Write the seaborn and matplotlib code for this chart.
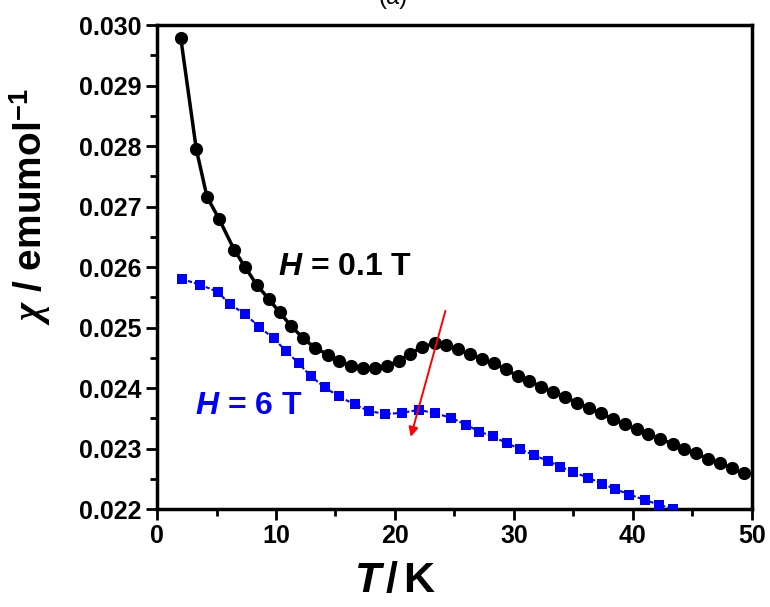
import matplotlib
matplotlib.use("Agg")
import matplotlib.pyplot as plt
import seaborn as sns

# chi(T) curves
t_low_field = [2.0, 3.3, 4.2, 5.2, 6.5, 7.4, 8.4, 9.4, 10.3, 11.3, 12.3, 13.3, 14.4, 15.3,
               16.3, 17.3, 18.3, 19.3, 20.3, 21.3, 22.3, 23.4, 24.3, 25.3, 26.3, 27.3, 28.3,
               29.3, 30.3, 31.3, 32.3, 33.3, 34.3, 35.3, 36.3, 37.3, 38.3, 39.3, 40.3, 41.3,
               42.3, 43.4, 44.3, 45.3, 46.3, 47.3, 48.3, 49.3]
chi_low_field = [0.02978, 0.02795, 0.02716, 0.02680, 0.02628, 0.02600, 0.02570, 0.02547,
                 0.02525, 0.02502, 0.02482, 0.02466, 0.02455, 0.02445, 0.02437, 0.02433,
                 0.02433, 0.02436, 0.02445, 0.02457, 0.02468, 0.02474, 0.02471, 0.02464,
                 0.02456, 0.02448, 0.02441, 0.02431, 0.02420, 0.02412, 0.02402, 0.02394,
                 0.02385, 0.02376, 0.02367, 0.02358, 0.02349, 0.02340, 0.02332, 0.02324,
                 0.02316, 0.02307, 0.02299, 0.02292, 0.02283, 0.02276, 0.02267, 0.02259]

t_high_field = [2.1, 3.6, 5.1, 6.1, 7.4, 8.6, 9.8, 10.8, 11.9, 12.9, 14.1, 15.3, 16.6, 17.8,
                19.2, 20.6, 22.0, 23.4, 24.7, 26.0, 27.1, 28.2, 29.4, 30.5, 31.7, 32.9, 33.9,
                35.0, 36.2, 37.4, 38.5, 39.7, 41.0, 42.2, 43.4]
chi_high_field = [0.02580, 0.02571, 0.02559, 0.02539, 0.02522, 0.02501, 0.02482, 0.02462,
                  0.02441, 0.02420, 0.02401, 0.02386, 0.02373, 0.02362, 0.02357, 0.02359,
                  0.02364, 0.02358, 0.02351, 0.02339, 0.02328, 0.02320, 0.02309, 0.02299,
                  0.02289, 0.02279, 0.02270, 0.02261, 0.02252, 0.02242, 0.02233, 0.02224,
                  0.02215, 0.02207, 0.02200]

x_ticks = [0, 10, 20, 30, 40, 50]
y_ticks = [0.022, 0.023, 0.024, 0.025, 0.026, 0.027, 0.028, 0.029, 0.030]

sns.set_theme(style="ticks")
plt.rcParams['font.family'] = ['Liberation Sans', 'DejaVu Sans']
plt.rcParams['font.weight'] = 'bold'
plt.rcParams['text.color'] = 'black'
plt.rcParams['axes.labelcolor'] = 'black'
plt.rcParams['xtick.color'] = 'black'
plt.rcParams['ytick.color'] = 'black'
plt.rcParams['mathtext.fontset'] = 'custom'
plt.rcParams['mathtext.it'] = 'Liberation Serif:italic:bold'
plt.rcParams['mathtext.sf'] = 'Liberation Sans:italic:bold'
plt.rcParams['mathtext.rm'] = 'Liberation Sans:bold'
plt.rcParams['mathtext.bf'] = 'Liberation Sans:bold'

fig = plt.figure(figsize=(7.7, 6.07), dpi=100)
ax = fig.add_axes([0.2039, 0.1614, 0.7727, 0.7974])

sns.lineplot(x=t_low_field, y=chi_low_field, ax=ax, color='black', lw=2.5, sort=False,
             marker='o', markersize=9.5, markeredgewidth=0, zorder=3)
sns.lineplot(x=t_high_field, y=chi_high_field, ax=ax, color='#0000ff', lw=1.5, sort=False,
             linestyle=(0, (2, 1)), marker='s', markersize=7.5, markeredgewidth=0, zorder=3)

ax.annotate('', xy=(21.26, 0.02315), xytext=(24.3, 0.02532),
            arrowprops=dict(arrowstyle='-|>', color='red', lw=1.4, mutation_scale=14))

ax.text(10.2, 0.0260, r'$\mathsf{H}$ = 0.1 T', fontsize=23, fontweight='bold',
        color='black', va='center')
ax.text(3.2, 0.0237, r'$\mathsf{H}$ = 6 T', fontsize=23, fontweight='bold',
        color='#0000ff', va='center')

ax.set_xlim(0, 50)
ax.set_ylim(0.022, 0.030)
ax.set_xticks(x_ticks)
ax.set_yticks(y_ticks)
ax.set_xticks(range(5, 50, 10), minor=True)
ax.set_yticks([0.0225, 0.0235, 0.0245, 0.0255, 0.0265, 0.0275, 0.0285, 0.0295], minor=True)
ax.set_yticklabels([f'{v:.3f}' for v in y_ticks])
ax.tick_params(which='major', direction='out', length=8, width=2, labelsize=18, pad=3)
ax.tick_params(which='minor', direction='out', length=5, width=2)
for lab in ax.get_xticklabels() + ax.get_yticklabels():
    lab.set_fontweight('bold')

for side in ['left', 'right', 'top', 'bottom']:
    ax.spines[side].set_visible(True)
    ax.spines[side].set_linewidth(2.5)
    ax.spines[side].set_color('black')

ax.set_xlabel(r'$\mathsf{T}\,/\,\mathrm{K}$', fontsize=31, fontweight='bold')
ax.xaxis.set_label_coords(0.40, -0.108)
ax.set_ylabel(r'$\chi$ / emumol$^{-1}$', fontsize=28, fontweight='bold')
ax.yaxis.set_label_coords(-0.175, 0.624)

fig.text(0.51, 0.994, '(a)', fontsize=17, fontweight='normal', ha='center', va='baseline')

fig.savefig('out.png', dpi=100)
